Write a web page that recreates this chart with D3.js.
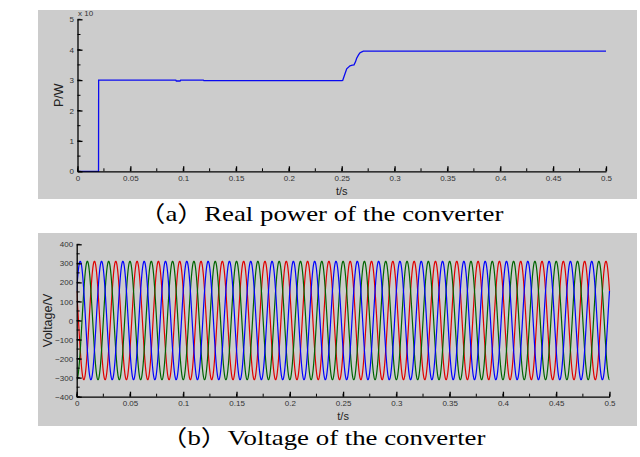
<!DOCTYPE html>
<html>
<head>
<meta charset="utf-8">
<script src="https://cdn.jsdelivr.net/npm/d3@7"></script>
<style>
  html, body { margin: 0; padding: 0; background: #ffffff; }
  svg { display: block; }
  .tick text { font-family: "Liberation Sans", Arial, sans-serif; }
</style>
</head>
<body>
<svg id="chart" width="640" height="457"></svg>
<script>
// ---------------- DATA ----------------
// (a) Real power of the converter, in units of 1e5 W
const powerTime  = [0, 0.0199, 0.0200, 0.0930, 0.0935, 0.0970, 0.0976, 0.1190, 0.1195, 0.2500, 0.2509, 0.2525, 0.2547, 0.2578, 0.2600, 0.2616, 0.2630, 0.2641, 0.2660, 0.2673, 0.2690, 0.2704, 0.5000];
const powerValue = [0, 0,      3.00,   3.00,   2.97,   2.97,   3.00,   3.00,   2.985,  2.985,  2.99,   3.15,   3.37,   3.47,   3.49,   3.50,   3.60,   3.72,   3.84,   3.90,   3.93,   3.95,   3.95];
const powerYTicks = [0, 1, 2, 3, 4, 5];
const powerExponentLabel = "x 10";
const powerExponent = "5";

// (b) Voltage of the converter: three sinusoidal phases
const phaseNames       = ["Ua", "Ub", "Uc"];
const phaseAmplitude   = [311, 311, 311];      // V, peak value
const phaseAngleDeg    = [-60, -180, 60];      // phase of cos(2*pi*f*t + phi), read from peak positions
const phaseFrequencyHz = [50, 50, 50];
const voltageYTicks = [-400, -300, -200, -100, 0, 100, 200, 300, 400];

// shared x axis
const timeTicks = [0, 0.05, 0.1, 0.15, 0.2, 0.25, 0.3, 0.35, 0.4, 0.45, 0.5];
const timeTickLabels = ["0", "0.05", "0.1", "0.15", "0.2", "0.25", "0.3", "0.35", "0.4", "0.45", "0.5"];

const captionA = "（a）Real power of the converter";
const captionB = "（b）Voltage of the converter";
const xLabel = "t/s";
const yLabelA = "P/W";
const yLabelB = "Voltage/V";

// ---------------- STYLE ----------------
const bg = "#cccccc";
const phaseColors = ["#0000ff", "#006400", "#e00000"];
const drawOrder = [2, 1, 0];
const sansFont = "'Liberation Sans', Arial, sans-serif";
const serifFont = "'Liberation Serif', 'Times New Roman', 'Noto Sans CJK SC', serif";

const svg = d3.select("#chart");

function minorTicks(domain, step) {
  const out = [];
  const n = Math.round((domain[1] - domain[0]) / step);
  for (let i = 0; i <= n; i++) out.push(domain[0] + i * step);
  return out;
}

function drawPanel(opts) {
  const g = svg.append("g");
  g.append("rect")
    .attr("x", opts.bgX0).attr("y", opts.bgY0)
    .attr("width", opts.bgX1 - opts.bgX0).attr("height", opts.bgY1 - opts.bgY0)
    .attr("fill", bg);
  const bgClip = "bgclip" + opts.id;
  g.append("clipPath").attr("id", bgClip).append("rect")
    .attr("x", opts.bgX0).attr("y", opts.bgY0)
    .attr("width", opts.bgX1 - opts.bgX0).attr("height", opts.bgY1 - opts.bgY0);

  const x = d3.scaleLinear().domain([0, 0.5]).range([opts.x0, opts.x1]);
  const y = d3.scaleLinear().domain(opts.yDomain).range([opts.y1, opts.y0]);

  // data layer
  const clipId = "clip" + opts.id;
  g.append("clipPath").attr("id", clipId).append("rect")
    .attr("x", opts.x0).attr("y", opts.y0 - 1)
    .attr("width", opts.x1 - opts.x0 + 2).attr("height", opts.y1 - opts.y0 + 2);
  const dataG = g.append("g").attr("clip-path", `url(#${clipId})`);
  opts.drawData(dataG, x, y);

  // minor ticks
  const minX = minorTicks([0, 0.5], 0.025);
  g.append("g").selectAll("line").data(minX).join("line")
    .attr("x1", d => x(d)).attr("x2", d => x(d))
    .attr("y1", opts.y1).attr("y2", opts.y1 - 3)
    .attr("stroke", "#000").attr("stroke-width", 1);
  const minY = minorTicks(opts.yDomain, opts.yMinorStep);
  g.append("g").selectAll("line").data(minY).join("line")
    .attr("x1", opts.x0).attr("x2", opts.x0 + 3)
    .attr("y1", d => y(d)).attr("y2", d => y(d))
    .attr("stroke", "#000").attr("stroke-width", 1);

  // x axis
  const xAxis = d3.axisBottom(x).tickValues(timeTicks)
    .tickFormat((d, i) => timeTickLabels[i]).tickSizeInner(-5).tickSizeOuter(0).tickPadding(4);
  const gx = g.append("g").attr("transform", `translate(0,${opts.y1})`).call(xAxis);
  gx.select(".domain").attr("stroke", "#000").attr("stroke-width", 1.3);
  gx.selectAll(".tick line").attr("stroke", "#000").attr("stroke-width", 1.3);
  gx.selectAll(".tick text").attr("font-size", 8).attr("fill", "#333")
    .attr("font-family", sansFont).attr("dy", 0).attr("y", 9.5);

  // y axis
  const yAxis = d3.axisLeft(y).tickValues(opts.yTicks).tickFormat(d3.format("d"))
    .tickSizeInner(-5).tickSizeOuter(0).tickPadding(4);
  const gy = g.append("g").attr("transform", `translate(${opts.x0},0)`).call(yAxis);
  gy.select(".domain").attr("stroke", "#000").attr("stroke-width", 1.3);
  gy.selectAll(".tick line").attr("stroke", "#000").attr("stroke-width", 1.3);
  gy.selectAll(".tick text").attr("font-size", 8).attr("fill", "#333")
    .attr("font-family", sansFont).attr("x", -3.5);

  // labels
  g.append("text").attr("x", x(0.25)).attr("y", opts.y1 + 23.5)
    .attr("text-anchor", "middle").attr("font-family", sansFont).attr("font-size", 11)
    .attr("fill", "#222").text(xLabel);
  g.append("text")
    .attr("transform", `translate(${opts.yLabelX},${(opts.y0 + opts.y1) / 2}) rotate(-90)`)
    .attr("text-anchor", "middle").attr("font-family", sansFont).attr("font-size", 12.5)
    .attr("fill", "#222").text(opts.yLabel);

  // caption (the reference figure is slightly stretched horizontally)
  svg.append("text")
    .attr("transform", `translate(${opts.captionX},${opts.captionY}) scale(1.22,1)`)
    .attr("text-anchor", "middle").attr("font-family", serifFont).attr("font-size", 22)
    .attr("fill", "#000").text(opts.caption);
  return { g, x, y, bgClip };
}

// ---------- Panel (a) ----------
const powerData = powerTime.map((t, i) => ({ t, v: powerValue[i] }));
const pa = drawPanel({
  id: "a", bgX0: 38, bgX1: 637, bgY0: 10, bgY1: 199,
  x0: 77.5, x1: 606, y0: 19.3, y1: 171.3,
  yDomain: [0, 5], yTicks: powerYTicks, yMinorStep: 0.5,
  yLabel: yLabelA, yLabelX: 63, caption: captionA, captionX: 321, captionY: 221,
  drawData: (dg, x, y) => {
    dg.append("path").datum(powerData)
      .attr("d", d3.line().x(d => x(d.t)).y(d => y(d.v)))
      .attr("fill", "none").attr("stroke", "#0a0af0").attr("stroke-width", 1.3);
  }
});
// exponent label (top of it is cut by the figure edge in the reference)
const expText = pa.g.append("text").attr("x", 78).attr("y", 15.5)
  .attr("clip-path", `url(#${pa.bgClip})`)
  .attr("font-family", sansFont).attr("font-size", 8).attr("fill", "#333");
expText.append("tspan").text(powerExponentLabel);
expText.append("tspan").attr("dy", -6).attr("font-size", 6).text(powerExponent);

// ---------- Panel (b) ----------
const sampleStep = 0.0001;
const sampleTimes = d3.range(0, 0.5 + sampleStep / 2, sampleStep);
const voltageSeries = phaseNames.map((name, k) => ({
  name,
  values: sampleTimes.map(t => ({
    t,
    v: phaseAmplitude[k] * Math.cos(2 * Math.PI * phaseFrequencyHz[k] * t + phaseAngleDeg[k] * Math.PI / 180)
  }))
}));
drawPanel({
  id: "b", bgX0: 38, bgX1: 637, bgY0: 233, bgY1: 426,
  x0: 76.7, x1: 609.5, y0: 244.3, y1: 396.7,
  yDomain: [-400, 400], yTicks: voltageYTicks, yMinorStep: 50,
  yLabel: yLabelB, yLabelX: 51.5, caption: captionB, captionX: 323, captionY: 445,
  drawData: (dg, x, y) => {
    drawOrder.forEach(k => {
      dg.append("path").datum(voltageSeries[k].values)
        .attr("d", d3.line().x(d => x(d.t)).y(d => y(d.v)))
        .attr("fill", "none").attr("stroke", phaseColors[k]).attr("stroke-width", 1.2);
    });
  }
});
</script>
</body>
</html>
